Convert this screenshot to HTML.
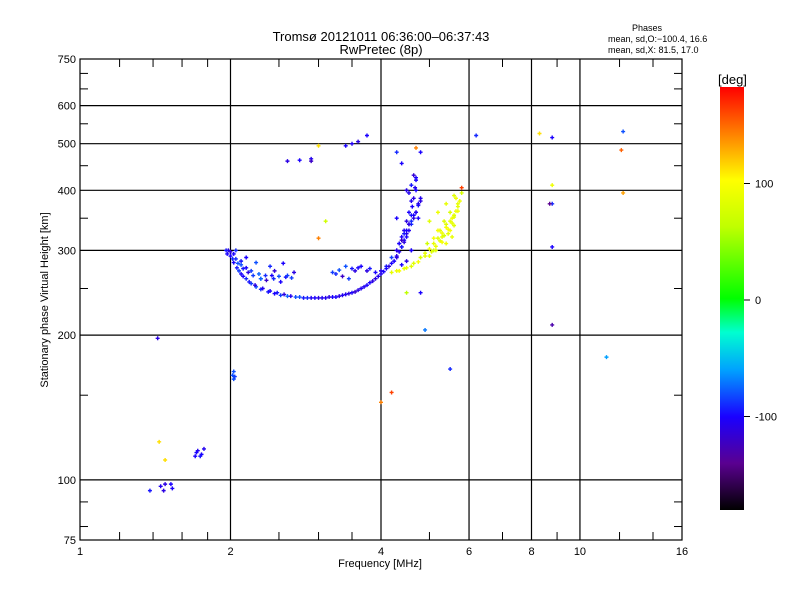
<!DOCTYPE html>
<html><head><meta charset="utf-8"><style>
body{margin:0;background:#fff}
svg{display:block;font-family:"Liberation Sans",sans-serif}
</style></head><body>
<svg id="chart" width="800" height="600" viewBox="0 0 800 600">
<text x="381" y="41" font-size="13" text-anchor="middle">Tromsø 20121011 06:36:00–06:37:43</text>
<text x="381" y="54" font-size="13" text-anchor="middle">RwPretec (8p)</text>
<text x="647" y="31" font-size="9" text-anchor="middle">Phases</text>
<text x="608" y="42" font-size="9">mean, sd,O:−100.4, 16.6</text>
<text x="608" y="53" font-size="9">mean, sd,X:  81.5, 17.0</text>
<g id="grid"></g>
<g id="pts"></g>
<rect x="80" y="59" width="602" height="481" fill="none" stroke="#000" stroke-width="1.2"/>
<g id="axes" font-size="11"></g>
<text x="380" y="567" font-size="11" text-anchor="middle">Frequency [MHz]</text>
<text transform="translate(48,300) rotate(-90)" font-size="11" text-anchor="middle">Stationary phase Virtual Height [km]</text>
<defs><linearGradient id="cb" x1="0" y1="1" x2="0" y2="0">
<stop offset="0" stop-color="#000"/><stop offset="0.11" stop-color="#5a0090"/><stop offset="0.22" stop-color="#1a00ff"/><stop offset="0.33" stop-color="#00a0ff"/><stop offset="0.42" stop-color="#00ffd0"/><stop offset="0.5" stop-color="#00ff00"/><stop offset="0.67" stop-color="#c0ff00"/><stop offset="0.78" stop-color="#ffff00"/><stop offset="0.89" stop-color="#ff8000"/><stop offset="1" stop-color="#ff0000"/>
</linearGradient></defs>
<rect x="720" y="87" width="24" height="423" fill="url(#cb)"/>
<text x="718" y="84" font-size="13">[deg]</text>
<g id="cbt" font-size="11"></g>
</svg>
<script>
const freqs=[2.0,2.03,2.06,2.1,2.15,2.2,2.25,2.3,2.38,2.45,2.52,2.6,2.7,2.8,2.9,3.0,3.1,3.2,3.3,3.4,3.5,3.6,3.7,3.8,3.9,4.0,4.1,4.2,4.3,4.4,4.45,4.5,4.55,4.6,4.62,4.65,4.68,4.7,
2.0,2.05,2.1,2.15,2.2,2.28,2.35,2.42,2.5,2.58,2.65,2.1,2.25,2.4,3.2,3.3,3.5,3.6,3.75,3.9,4.0,4.1,4.2,4.3,4.35,4.4,4.45,4.5,4.55,4.6,4.3,4.5,4.4,4.6,
4.2,4.35,4.5,4.65,4.8,4.9,5.0,5.1,5.2,5.3,5.4,5.5,5.6,5.65,5.7,5.75,5.8,5.0,5.2,5.4,5.5,5.6,5.3,5.1,
2.6,2.75,2.9,3.0,3.4,3.5,3.6,3.75,4.7,4.8,5.8,6.2,8.3,8.8,8.8,12.2,12.1,12.2,8.8,8.7,8.8,8.8,11.3,
1.98,2.02,2.03,1.43,1.44,1.53,1.48,1.38,1.48,1.72,1.75,1.7,4.0,4.2,4.5,4.8,4.9,5.5,4.4,4.7,3.0,3.1,2.9,4.3,
2.02,2.08,2.12,2.18,2.24,2.32,2.4,2.48,2.56,2.64,2.75,2.85,2.95,3.05,3.15,3.25,3.35,3.45,3.55,3.65,3.75,3.85,3.95,4.05,4.15,
2.03,2.07,2.12,2.17,2.22,2.3,2.36,2.44,2.52,2.6,2.68,2.05,2.15,2.3,2.45,2.55,3.25,3.4,3.55,3.65,3.8,3.35,3.45,
4.25,4.3,4.35,4.4,4.45,4.5,4.55,4.6,4.65,4.7,4.75,4.8,4.3,4.4,4.5,4.6,4.7,4.8,4.35,4.45,4.55,4.65,4.75,4.5,4.6,4.7,4.55,4.65,4.75,4.5,4.6,
4.3,4.45,4.6,4.75,4.9,5.05,5.15,5.25,5.35,5.45,5.55,5.6,5.7,4.95,5.1,5.25,5.4,5.55,5.7,5.2,5.35,5.5,5.65,5.0,5.15,5.3,5.45,5.6,5.4,5.55,
1.45,1.47,1.52,1.71,1.74,1.77,2.03,2.04,1.97,1.96];
const heights=[292,283,276,268,262,256,252,249,246,244,242,241,240,239,239,239,239,240,241,243,245,248,252,257,262,268,275,282,292,305,315,325,340,355,370,385,405,425,
298,288,280,276,272,268,266,266,265,264,263,285,283,278,270,273,275,276,272,270,272,278,290,300,310,320,330,345,360,380,350,400,280,300,
270,272,276,282,290,296,302,310,318,326,335,345,355,362,370,380,395,345,360,375,330,390,320,300,
460,462,465,495,495,500,505,520,490,480,405,520,525,515,410,530,485,395,375,375,305,210,180,
300,165,162,197,120,96,110,95,98,115,113,112,145,152,245,245,205,170,455,400,318,345,460,480,
288,272,265,258,254,250,247,245,243,241,240,239,239,239,240,240,242,244,246,250,254,259,265,271,278,
295,282,275,270,266,262,260,262,258,266,270,300,290,262,272,282,268,278,272,278,275,265,262,
285,290,298,305,312,320,330,340,350,360,372,385,300,315,330,345,360,380,310,325,340,355,375,400,410,420,395,430,350,285,300,
272,275,278,284,292,298,306,314,322,332,342,352,362,310,318,330,340,350,375,330,345,360,385,292,300,312,325,338,310,320,
97,95,98,114,112,116,168,164,295,300];
const phases=[-100,-100,-95,-100,-90,-85,-80,-90,-95,-100,-85,-75,-80,-95,-105,-110,-105,-100,-110,-105,-100,-110,-105,-100,-110,-105,-100,-100,-110,-105,-100,-110,-105,-95,-100,-110,-105,-100,
-110,-90,-80,-100,-85,-75,-90,-100,-80,-95,-85,-95,-80,-90,-85,-80,-95,-100,-110,-100,-105,-95,-85,-100,-110,-100,-105,-110,-100,-105,-100,-95,-100,-110,
85,95,90,80,75,85,90,85,80,90,95,85,80,90,85,90,75,80,90,85,95,80,85,70,
-110,-100,-105,110,-100,-105,-110,-100,140,-100,160,-90,110,-100,90,-80,150,130,-90,-140,-100,-130,-60,
-110,-80,-80,-110,110,-100,110,-95,-110,-105,-100,-100,140,160,60,-100,-70,-90,-100,-100,140,70,-120,-90,
-90,-85,-100,-95,-110,-105,-100,-95,-110,-105,-80,-90,-100,-105,-110,-100,-105,-110,-115,-105,-100,-110,-105,-100,-110,
-100,-80,-95,-110,-85,-75,-120,-90,-100,-85,-110,-90,-100,-75,-115,-100,-90,-80,-110,-100,-95,-120,-85,
-100,-110,-105,-95,-110,-100,-105,-90,-110,-100,-95,-105,-110,-120,-100,-90,-105,-110,-100,-95,-110,-100,-105,-110,-95,-100,-105,-115,-100,-110,-100,
90,85,80,95,85,80,90,85,75,95,85,80,90,70,95,85,80,90,85,95,80,75,90,85,80,95,85,80,90,85,
-105,-110,-100,-100,-95,-105,-80,-85,-100,-95];
const fmin=1,fmax=16,hmin=75,hmax=750,L=80,R=682,T=59,B=540;
const xs=f=>L+(R-L)*Math.log(f/fmin)/Math.log(fmax/fmin);
const ys=h=>B-(B-T)*Math.log(h/hmin)/Math.log(hmax/hmin);
const stops=[[-180,[0,0,0]],[-140,[90,0,144]],[-100,[26,0,255]],[-60,[0,160,255]],[-30,[0,255,208]],[0,[0,255,0]],[60,[192,255,0]],[100,[255,255,0]],[140,[255,128,0]],[180,[255,0,0]]];
function col(p){for(let i=1;i<stops.length;i++){if(p<=stops[i][0]){const a=stops[i-1],b=stops[i],t=(p-a[0])/(b[0]-a[0]);return 'rgb('+a[1].map((v,k)=>Math.round(v+(b[1][k]-v)*t)).join(',')+')';}}return 'red';}
const NS='http://www.w3.org/2000/svg';
function mk(tag,at,par){const e=document.createElementNS(NS,tag);for(const k in at)e.setAttribute(k,at[k]);par.appendChild(e);return e;}
const grid=document.getElementById('grid'),axes=document.getElementById('axes'),pts=document.getElementById('pts'),cbt=document.getElementById('cbt');
const vgrid=[2,4,6,8,10];
vgrid.forEach(f=>{const l=mk('line',{x1:xs(f),x2:xs(f),y1:T,y2:B,stroke:'#000','stroke-width':1.2},grid);

});
const hgrid=[100,200,300,400,500,600];
hgrid.forEach(h=>{const l=mk('line',{x1:L,x2:R,y1:ys(h),y2:ys(h),stroke:'#000','stroke-width':1.2},grid);

});
const xTickLabels=[1,2,4,6,8,10,16];
xTickLabels.forEach(f=>{const t=mk('text',{x:xs(f),y:555,'text-anchor':'middle'},axes);t.textContent=f;

});
const xMinor=[1.2,1.4,1.6,1.8,2.5,3,3.5,5,7,9,12,14];
xMinor.forEach(f=>{[[T,T+8],[B-8,B]].forEach(([a,b])=>{const l=mk('line',{x1:xs(f),x2:xs(f),y1:a,y2:b,stroke:'#000'},axes);

});});
const yTickLabels=[75,100,200,300,400,500,600,750];
yTickLabels.forEach(h=>{const t=mk('text',{x:76,y:ys(h)+4,'text-anchor':'end'},axes);t.textContent=h;

});
const yMinor=[80,90,150,250,350,450,550,650,700];
yMinor.forEach(h=>{[[L,L+8],[R-8,R]].forEach(([a,b])=>{const l=mk('line',{x1:a,x2:b,y1:ys(h),y2:ys(h),stroke:'#000'},axes);

});});
freqs.forEach((f,i)=>{const x=xs(f),y=ys(heights[i]);const g=mk('path',{d:`M${x-2} ${y}h4M${x} ${y-2}v4`,stroke:col(phases[i]),'stroke-width':1.4},pts);

});
const cbTicks=[100,0,-100];
cbTicks.forEach(v=>{const y=300-v*1.165;const l=mk('line',{x1:744,x2:750,y1:y,y2:y,stroke:'#000'},cbt);


const t=mk('text',{x:755,y:y+4},cbt);t.textContent=v;

});
</script>
</body></html>
